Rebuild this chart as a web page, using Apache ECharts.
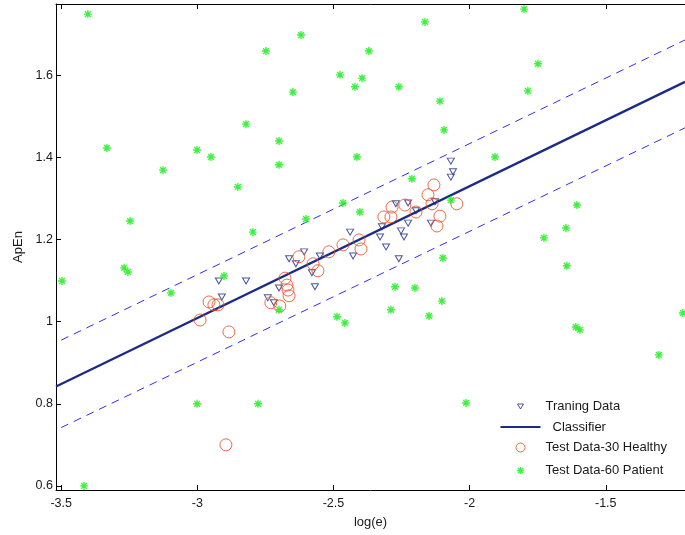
<!DOCTYPE html>
<html>
<head>
<meta charset="utf-8">
<script src="https://cdn.jsdelivr.net/npm/echarts@6/dist/echarts.min.js"></script>
<style>
html,body{margin:0;padding:0;background:#fff;}
#chart{width:685px;height:535px;}
</style>
</head>
<body>
<div id="chart"></div>
<script>
// ---- data ----
const xTicks = [-3.5, -3, -2.5, -2, -1.5];
const yTicks = [0.6, 0.8, 1, 1.2, 1.4, 1.6];

const trainingData = [
  [-2.439,1.218],[-2.608,1.170],[-2.663,1.153],[-2.638,1.141],[-2.550,1.160],[-2.428,1.160],
  [-2.921,1.099],[-2.821,1.099],[-2.910,1.060],[-2.700,1.082],[-2.568,1.085],[-2.741,1.058],
  [-2.719,1.046],[-2.579,1.119],[-2.069,1.391],[-2.061,1.365],[-2.069,1.352],[-2.271,1.287],
  [-2.226,1.289],[-2.127,1.292],[-2.197,1.270],[-2.142,1.240],[-2.226,1.240],[-2.322,1.231],
  [-2.252,1.221],[-2.329,1.206],[-2.241,1.206],[-2.307,1.182],[-2.260,1.153]
];

const classifierLine = [[-3.519,0.842],[-1.209,1.584]];
const upperMargin = [[-3.5,0.955],[-1.209,1.686]];
const lowerMargin = [[-3.5,0.742],[-1.209,1.472]];

const healthyTest = [
  [-2.957,1.048],[-2.939,1.041],[-2.924,1.041],[-2.990,1.004],[-2.730,1.046],[-2.697,1.038],
  [-2.678,1.106],[-2.671,1.089],[-2.667,1.077],[-2.663,1.063],[-2.627,1.158],[-2.575,1.141],
  [-2.557,1.124],[-2.517,1.170],[-2.465,1.187],[-2.406,1.199],[-2.399,1.177],[-2.315,1.255],
  [-2.289,1.255],[-2.285,1.279],[-2.238,1.284],[-2.197,1.267],[-2.153,1.309],[-2.131,1.333],
  [-2.138,1.287],[-2.109,1.257],[-2.120,1.233],[-2.047,1.287],[-2.884,0.975],[-2.895,0.700]
];

const patientTest = [
  [-3.402,1.749],[-1.800,1.761],[-2.164,1.730],[-2.619,1.698],[-2.748,1.659],[-2.370,1.659],
  [-1.749,1.628],[-2.476,1.601],[-2.395,1.593],[-2.421,1.572],[-2.649,1.559],[-2.260,1.572],
  [-1.786,1.562],[-2.109,1.537],[-2.821,1.481],[-2.094,1.467],[-2.700,1.440],[-3.332,1.423],
  [-3.001,1.418],[-2.950,1.401],[-2.414,1.401],[-1.907,1.401],[-2.700,1.382],[-3.126,1.369],
  [-2.212,1.348],[-2.851,1.328],[-2.465,1.289],[-2.069,1.296],[-1.606,1.284],[-2.403,1.267],
  [-2.601,1.250],[-3.247,1.245],[-2.796,1.218],[-1.646,1.228],[-1.727,1.204],[-2.098,1.155],
  [-2.902,1.111],[-1.643,1.136],[-3.497,1.099],[-3.269,1.131],[-3.255,1.121],[-3.097,1.070],
  [-2.274,1.085],[-2.201,1.082],[-2.102,1.050],[-2.700,1.029],[-2.289,1.029],[-2.149,1.014],
  [-2.487,1.012],[-2.458,0.997],[-1.610,0.987],[-1.595,0.980],[-1.305,0.919],[-3.001,0.800],
  [-2.777,0.800],[-2.013,0.802],[-3.416,0.600],[-1.217,1.021]
];

// ---- styling ----
const FONT = "'Liberation Sans', Arial, Helvetica, sans-serif";
const NAVY = '#1b2b86';
const DASH = '#2f2fee';
const RED = '#e8481e';
const GREEN = '#11ee11';
const TXT = '#1a1a1a';

const starPath = 'path://M0,-4V4M-4,0H4M-2.9,-2.9L2.9,2.9M-2.9,2.9L2.9,-2.9';
const pad = 'M0,0L0,0M40,14L40,14';

const chart = echarts.init(document.getElementById('chart'), null, {renderer:'canvas'});

const option = {
  animation: false,
  backgroundColor: '#fff',
  textStyle: {fontFamily: FONT},
  grid: {left: 56, right: 0, top: 4, bottom: 45, containLabel: false},
  xAxis: [{
    type: 'value', min: -3.519, max: -1.209, position: 'bottom',
    name: 'log(e)', nameLocation: 'middle', nameGap: 26,
    nameTextStyle: {fontFamily: FONT, fontSize: 13, color: TXT},
    axisLine: {show: true, onZero: false, lineStyle: {color: '#000', width: 1}},
    axisTick: {show: true, inside: true, length: 5, lineStyle: {color: '#000'}, customValues: xTicks},
    axisLabel: {show: true, margin: 7, fontFamily: FONT, fontSize: 12.5, color: TXT, customValues: xTicks},
    splitLine: {show: false}
  }, {
    type: 'value', min: -3.519, max: -1.209, position: 'top',
    axisLine: {show: true, onZero: false, lineStyle: {color: '#000', width: 1}},
    axisTick: {show: true, inside: true, length: 5, lineStyle: {color: '#000'}, customValues: xTicks},
    axisLabel: {show: false},
    splitLine: {show: false}
  }],
  yAxis: [{
    type: 'value', min: 0.590, max: 1.7736, position: 'left',
    name: 'ApEn', nameLocation: 'middle', nameGap: 30, nameRotate: 90,
    nameTextStyle: {fontFamily: FONT, fontSize: 13, color: TXT},
    axisLine: {show: true, onZero: false, lineStyle: {color: '#000', width: 1}},
    axisTick: {show: true, inside: true, length: 5, lineStyle: {color: '#000'}, customValues: yTicks},
    axisLabel: {show: true, margin: 3, fontFamily: FONT, fontSize: 12.5, color: TXT, customValues: yTicks},
    splitLine: {show: false}
  }],
  legend: {
    orient: 'vertical', left: 493, top: 392, padding: 5,
    itemWidth: 40, itemHeight: 14, itemGap: 4, itemTextGap: 3,
    textStyle: {fontFamily: FONT, fontSize: 13, color: TXT},
    selectedMode: false,
    data: [
      {name: 'Traning Data', icon: 'path://' + pad + 'M17,4.5L23,4.5L20,9.5Z',
       itemStyle: {color: 'none', borderColor: NAVY, borderWidth: 1}},
      {name: 'Classifier', icon: 'path://' + pad + 'M0,6H40V8H0Z',
       itemStyle: {color: NAVY, borderWidth: 0}, textStyle: {padding: [0,0,0,7]}},
      {name: 'Test Data-30 Healthy', icon: 'path://' + pad + 'M24.5,7A4.5,4.5,0,1,1,15.5,7A4.5,4.5,0,1,1,24.5,7Z',
       itemStyle: {color: 'none', borderColor: RED, borderWidth: 1}},
      {name: 'Test Data-60 Patient', icon: 'path://' + pad + 'M20,3.5V10.5M16.5,7H23.5M17.5,4.5L22.5,9.5M17.5,9.5L22.5,4.5',
       itemStyle: {color: 'none', borderColor: GREEN, borderWidth: 1.3}}
    ]
  },
  series: [
    {
      name: 'Upper margin', type: 'line', data: upperMargin, symbol: 'none',
      lineStyle: {color: DASH, width: 1, type: [8, 6]}, z: 2, silent: true
    },
    {
      name: 'Lower margin', type: 'line', data: lowerMargin, symbol: 'none',
      lineStyle: {color: DASH, width: 1, type: [8, 6]}, z: 2, silent: true
    },
    {
      name: 'Classifier', type: 'line', data: classifierLine, symbol: 'none',
      lineStyle: {color: NAVY, width: 2.3}, itemStyle: {color: NAVY}, z: 3
    },
    {
      name: 'Traning Data', type: 'scatter', data: trainingData,
      symbol: 'triangle', symbolRotate: 180, symbolSize: [7, 6],
      itemStyle: {color: 'none', borderColor: NAVY, borderWidth: 1}, z: 4
    },
    {
      name: 'Test Data-30 Healthy', type: 'scatter', data: healthyTest,
      symbol: 'circle', symbolSize: 12,
      itemStyle: {color: 'none', borderColor: RED, borderWidth: 1}, z: 5
    },
    {
      name: 'Test Data-60 Patient', type: 'scatter', data: patientTest,
      symbol: starPath, symbolSize: 8, symbolKeepAspect: true,
      itemStyle: {color: 'none', borderColor: GREEN, borderWidth: 1.4}, z: 6
    }
  ]
};
chart.setOption(option);
</script>
</body>
</html>
